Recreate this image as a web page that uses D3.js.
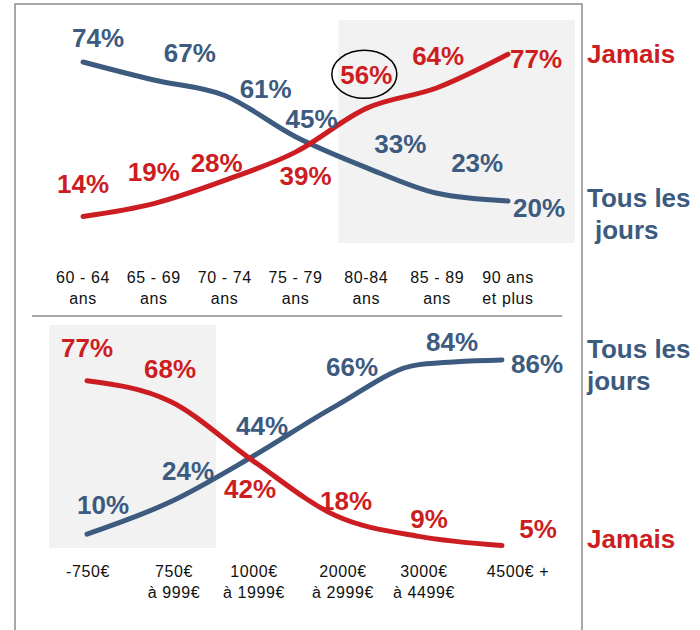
<!DOCTYPE html>
<html>
<head>
<meta charset="utf-8">
<script src="https://cdn.jsdelivr.net/npm/d3@7"></script>
<style>
  body { margin: 0; background: #fff; }
  svg text { font-family: "Liberation Sans", Arial, sans-serif; }
</style>
</head>
<body>
<svg id="chart" width="700" height="630"></svg>
<script>
// top chart : age groups
var ageLabels = [["60 - 64", "ans"], ["65 - 69", "ans"], ["70 - 74", "ans"], ["75 - 79", "ans"], ["80-84", "ans"], ["85 - 89", "ans"], ["90 ans", "et plus"]];
var ageTous = [74, 67, 61, 45, 33, 23, 20];
var ageJamais = [14, 19, 28, 39, 56, 64, 77];

// bottom chart : income
var revLabels = [["-750€", ""], ["750€", "à 999€"], ["1000€", "à 1999€"], ["2000€", "à 2999€"], ["3000€", "à 4499€"], ["4500€ +", ""]];
var revTous = [10, 24, 44, 66, 84, 86];
var revJamais = [77, 68, 42, 18, 9, 5];

var red = "#cc1e22",
    blue = "#3d5a7f";

var svg = d3.select("#chart");

// frame
svg.append("path")
    .attr("d", "M15,640 V4 H582 V640")
    .attr("fill", "none")
    .attr("stroke", "#8c8c8c")
    .attr("stroke-width", 1.5);
svg.append("line")
    .attr("x1", 32).attr("x2", 562)
    .attr("y1", 316).attr("y2", 316)
    .attr("stroke", "#8c8c8c")
    .attr("stroke-width", 1.5);

function drawPanel(cfg) {
  var x = d3.scalePoint()
      .domain(d3.range(cfg.labels.length))
      .range(cfg.xRange);
  var y = d3.scaleLinear()
      .domain([0, 100])
      .range([cfg.y0, cfg.y0 - 100 * cfg.k]);

  var g = svg.append("g");

  // shaded zone
  g.append("rect")
      .attr("x", x(cfg.shade[0]) - cfg.shadePad[0])
      .attr("width", x(cfg.shade[1]) - x(cfg.shade[0]) + cfg.shadePad[0] + cfg.shadePad[1])
      .attr("y", cfg.shadeY[0])
      .attr("height", cfg.shadeY[1] - cfg.shadeY[0])
      .attr("fill", "#f2f2f2");

  var line = d3.line()
      .x(function(d, i) { return x(i); })
      .y(function(d) { return y(d); })
      .curve(d3.curveMonotoneX);

  cfg.series.forEach(function(s) {
    g.append("path")
        .datum(s.values)
        .attr("d", line)
        .attr("fill", "none")
        .attr("stroke", s.color)
        .attr("stroke-width", 5)
        .attr("stroke-linecap", "round");
  });

  cfg.series.forEach(function(s) {
    g.selectAll(null)
      .data(s.values)
      .enter().append("text")
        .attr("x", function(d, i) { return x(i) + s.dx[i]; })
        .attr("y", function(d, i) { return y(d) + s.dy[i]; })
        .attr("text-anchor", "middle")
        .attr("font-size", 26)
        .attr("font-weight", "bold")
        .attr("fill", s.color)
        .text(function(d) { return d + "%"; });
  });

  // category labels
  var tick = g.selectAll(null)
    .data(cfg.labels)
    .enter().append("text")
      .attr("text-anchor", "middle")
      .attr("font-size", 16)
      .attr("letter-spacing", 0.6)
      .attr("fill", "#111");
  tick.append("tspan")
      .attr("x", function(d, i) { return x(i) + (cfg.tickDx[i] || 0); })
      .attr("y", cfg.tickY)
      .text(function(d) { return d[0]; });
  tick.append("tspan")
      .attr("x", function(d, i) { return x(i) + (cfg.tickDx[i] || 0); })
      .attr("y", cfg.tickY + 21)
      .text(function(d) { return d[1]; });

  // legend at right
  cfg.legend.forEach(function(l) {
    var t = g.append("text")
        .attr("font-size", 26)
        .attr("font-weight", "bold")
        .attr("fill", l.color);
    l.lines.forEach(function(txt, j) {
      t.append("tspan")
          .attr("x", 587 + (l.indent[j] || 0))
          .attr("y", l.y + j * 32)
          .text(txt);
    });
  });

  return {x: x, y: y, g: g};
}

var agePanel = drawPanel({
  labels: ageLabels,
  xRange: [83, 508],
  y0: 252.5, k: 2.574,
  shade: [4, 6], shadePad: [28, 67], shadeY: [20, 243],
  tickY: 283,
  tickDx: [],
  series: [
    {values: ageTous, color: blue,
     dx: [15, 36, 41, 16, 34, 40, 31],
     dy: [-15, -18, 3, -9, -15, -21, 16]},
    {values: ageJamais, color: red,
     dx: [0, 0, -8, 10, 0, 1, 28],
     dy: [-23, -23, -8, 33, -24, -23, 14]}
  ],
  legend: [
    {lines: ["Jamais"], color: red, y: 63, indent: []},
    {lines: ["Tous les", "jours"], color: blue, y: 207, indent: [0, 8]}
  ]
});

// circle around 56%
agePanel.g.append("ellipse")
    .attr("cx", agePanel.x(4) - 2)
    .attr("cy", agePanel.y(ageJamais[4]) - 34)
    .attr("rx", 32.5)
    .attr("ry", 24)
    .attr("fill", "none")
    .attr("stroke", "#000")
    .attr("stroke-width", 1.5);

drawPanel({
  labels: revLabels,
  xRange: [87, 502],
  y0: 557, k: 2.29,
  shade: [0, 1], shadePad: [38, 46], shadeY: [325, 548],
  tickY: 577,
  tickDx: [1, 4, 1, 7, 5, 16],
  series: [
    {values: revTous, color: blue,
     dx: [16, 18, 9, 16, 33, 35],
     dy: [-20, -22, -21, -30, -14, 13]},
    {values: revJamais, color: red,
     dx: [0, 0, -3, 10, 10, 36],
     dy: [-24, -23, 37, -6, -8, -8]}
  ],
  legend: [
    {lines: ["Tous les", "jours"], color: blue, y: 358, indent: [0, 0]},
    {lines: ["Jamais"], color: red, y: 548, indent: []}
  ]
});
</script>
</body>
</html>
